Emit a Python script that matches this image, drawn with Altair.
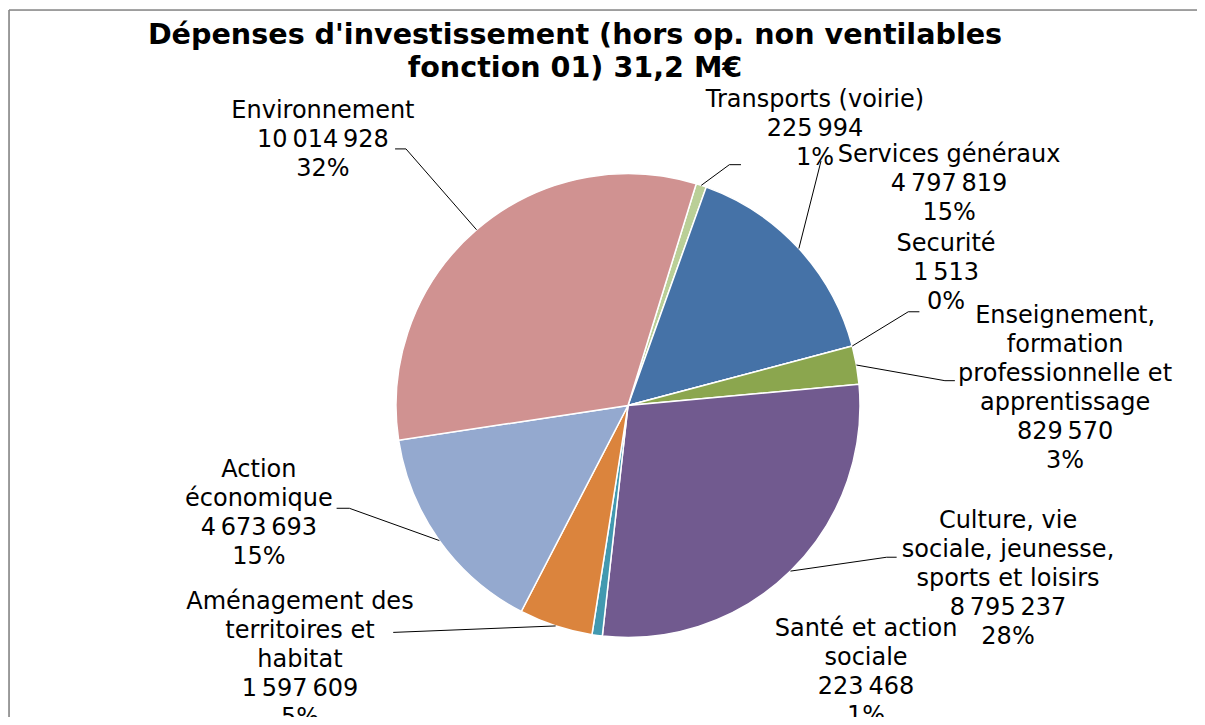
import math
import altair as alt
import pandas as pd

# ---------------- data ----------------
categories = [
    "Transports (voirie)",
    "Services généraux",
    "Securité",
    "Enseignement, formation professionnelle et apprentissage",
    "Culture, vie sociale, jeunesse, sports et loisirs",
    "Santé et action sociale",
    "Aménagement des territoires et habitat",
    "Action économique",
    "Environnement",
]
values = [225994, 4797819, 1513, 829570, 8795237, 223468, 1597609, 4673693, 10014928]
label_names = [
    ["Transports (voirie)"],
    ["Services généraux"],
    ["Securité"],
    ["Enseignement,", "formation", "professionnelle et", "apprentissage"],
    ["Culture, vie", "sociale, jeunesse,", "sports et loisirs"],
    ["Santé et action", "sociale"],
    ["Aménagement des", "territoires et", "habitat"],
    ["Action", "économique"],
    ["Environnement"],
]
title_lines = ["Dépenses d'investissement (hors op. non ventilables", "fonction 01) 31,2 M€"]

# ---------------- style / layout ----------------
colors = ["#BACF97", "#4572A7", "#AA4643", "#8BA64E", "#715A8F",
          "#4299B0", "#DB843D", "#94A9CF", "#D09291"]
FONT = "DejaVu Sans"
R = 232.0              # pie radius (px)
W, H = 1188, 707       # view size (px)
CX, CY = 619.0, 395.5  # pie centre inside the view (px)
START_DEG = 17.1       # angle of first slice

# first-line centres of the labels, in pie radii from the centre (x right, y up)
label_pos = [
    (0.806, 1.317), (1.384, 1.080), (1.371, 0.696), (1.884, 0.386), (1.638, -0.496),
    (1.026, -0.965), (-1.414, -0.847), (-1.591, -0.278), (-1.315, 1.269),
]
# leader-line elbow/end points, in pie radii
leader_pts = [
    [(0.437, 1.038), (0.487, 1.038)],
    [(0.832, 1.054)],
    [(1.208, 0.404), (1.256, 0.404)],
    [(1.366, 0.107), (1.409, 0.107)],
    [(1.115, -0.654), (1.158, -0.654)],
    [],
    [(-1.012, -0.978)],
    [(-1.201, -0.443), (-1.256, -0.443)],
    [(-0.957, 1.106), (-1.004, 1.106)],
]

# ---------------- tables ----------------
total = sum(values)
start = math.radians(START_DEG)
df = pd.DataFrame({"category": categories, "value": values, "idx": range(len(values))})

def fmt(v):
    return f"{v:,}".replace(",", "\u202f")

lab_rows, line_rows = [], []
cum = 0.0
for i, (c, v) in enumerate(zip(categories, values)):
    mid = start + 2 * math.pi * (cum + v / 2) / total
    cum += v
    pct = round(v / total * 100)
    text = "\n".join(label_names[i] + [fmt(v), f"{pct}%"])
    lx, ly = label_pos[i]
    lab_rows.append({"category": c, "x": lx, "y": ly, "text": text})
    if leader_pts[i]:
        pts = [(math.sin(mid), math.cos(mid))] + leader_pts[i]
        for k, (px, py) in enumerate(pts):
            line_rows.append({"category": c, "k": k, "x": px, "y": py})

labels_df = pd.DataFrame(lab_rows)
lines_df = pd.DataFrame(line_rows)

xscale = alt.Scale(domain=[-CX / R, (W - CX) / R], nice=False, zero=False)
yscale = alt.Scale(domain=[(CY - H) / R, CY / R], nice=False, zero=False)

border = alt.Chart(pd.DataFrame({"k": [0]})).mark_rule(color="#878787", strokeWidth=1.6)
border_top = border.encode(x=alt.value(0), x2=alt.value(W + 20), y=alt.value(0))
border_left = border.encode(x=alt.value(0), y=alt.value(0), y2=alt.value(H + 20))

arcs = alt.Chart(df).mark_arc(outerRadius=R, stroke="white", strokeWidth=1.5).encode(
    theta=alt.Theta("value:Q", stack=True,
                    scale=alt.Scale(range=[start, start + 2 * math.pi])),
    color=alt.Color("category:N", scale=alt.Scale(domain=categories, range=colors), legend=None),
    order=alt.Order("idx:Q"),
    x=alt.X(datum=0, scale=xscale, axis=None),
    y=alt.Y(datum=0, scale=yscale, axis=None),
)

leaders = alt.Chart(lines_df).mark_line(color="black", strokeWidth=1).encode(
    x=alt.X("x:Q", scale=xscale, axis=None),
    y=alt.Y("y:Q", scale=yscale, axis=None),
    detail="category:N",
    order="k:Q",
)

labels = alt.Chart(labels_df).mark_text(
    font=FONT, fontSize=24, lineHeight=29, lineBreak="\n",
    align="center", baseline="middle", color="black",
).encode(
    x=alt.X("x:Q", scale=xscale, axis=None),
    y=alt.Y("y:Q", scale=yscale, axis=None),
    text="text:N",
)

chart = alt.layer(border_top, border_left, arcs, leaders, labels).properties(
    width=W, height=H,
    autosize=alt.AutoSizeParams(type="none"),
    padding={"left": 1, "top": 2, "right": 0, "bottom": 0},
    title=alt.TitleParams(
        title_lines, font=FONT, fontSize=28.6, fontWeight="bold", color="black",
        anchor="middle", dx=-28, dy=77, lineHeight=33,
    ),
).configure_view(stroke="transparent", strokeWidth=0).configure(background="white")

chart.save("out.html", embed_options={"renderer": "svg", "actions": False})
